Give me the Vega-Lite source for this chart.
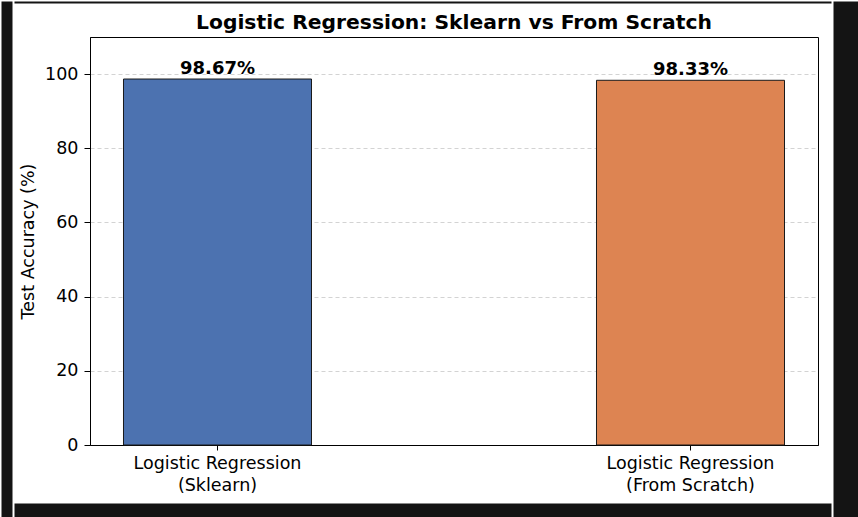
{
  "$schema": "https://vega.github.io/schema/vega-lite/v6.json",
  "background": "white",
  "padding": 0,
  "spacing": 0,
  "config": {
    "font": "DejaVu Sans",
    "view": {"stroke": "black", "strokeWidth": 1}
  },
  "hconcat": [
    {
      "width": 11,
      "height": 517,
      "view": {"fill": "#141414", "stroke": "transparent"},
      "data": {"values": []},
      "mark": "rect"
    },
    {
      "spacing": 8,
      "vconcat": [
        {
          "width": 817,
          "height": 2,
          "view": {"fill": "#141414", "stroke": "transparent"},
          "data": {"values": []},
          "mark": "rect"
        },
        {
          "spacing": 2,
          "hconcat": [
            {
              "width": 1,
              "height": 1,
              "view": {"fill": "transparent", "stroke": "transparent"},
              "data": {"values": []},
              "mark": "rect"
            },
            {
              "width": 728,
              "height": 408,
              "title": {
                "text": "Logistic Regression: Sklearn vs From Scratch",
                "fontSize": 20.3,
                "fontWeight": "bold",
                "font": "DejaVu Sans",
                "color": "black",
                "offset": 4
              },
              "data": {
                "values": [
                  {"model": "Logistic Regression|(Sklearn)", "acc": 98.67},
                  {"model": "Logistic Regression|(From Scratch)", "acc": 98.33}
                ]
              },
              "transform": [
                {"calculate": "format(datum.acc, '.2f') + '%'", "as": "label"}
              ],
              "encoding": {
                "x": {
                  "field": "model",
                  "type": "nominal",
                  "sort": null,
                  "scale": {"paddingInner": 0.6025, "paddingOuter": 0.0708},
                  "axis": {
                    "title": null,
                    "labelAngle": 0,
                    "labelExpr": "split(datum.label, '|')",
                    "labelFontSize": 17.5,
                    "labelColor": "black",
                    "labelLineHeight": 22,
                    "labelPadding": 4,
                    "labelBaseline": "top",
                    "tickColor": "black",
                    "tickSize": 5,
                    "domainColor": "black",
                    "grid": false
                  }
                },
                "y": {
                  "field": "acc",
                  "type": "quantitative",
                  "scale": {"domain": [0, 110], "nice": false},
                  "axis": {
                    "title": "Test Accuracy (%)",
                    "values": [0, 20, 40, 60, 80, 100],
                    "grid": true,
                    "gridDash": [4, 3],
                    "gridColor": "#b0b0b0",
                    "gridOpacity": 0.7,
                    "gridWidth": 0.8,
                    "domainColor": "black",
                    "tickColor": "black",
                    "tickSize": 6,
                    "labelFontSize": 17.5,
                    "labelColor": "black",
                    "labelPadding": 6,
                    "titleFontSize": 17.5,
                    "titleFontWeight": "normal",
                    "titleColor": "black",
                    "titlePadding": 7.5
                  }
                }
              },
              "layer": [
                {
                  "mark": {"type": "bar", "stroke": "#1a1a1a", "strokeWidth": 1},
                  "encoding": {
                    "color": {
                      "field": "model",
                      "type": "nominal",
                      "scale": {
                        "domain": ["Logistic Regression|(Sklearn)", "Logistic Regression|(From Scratch)"],
                        "range": ["#4c72b0", "#dd8452"]
                      },
                      "legend": null
                    }
                  }
                },
                {
                  "mark": {
                    "type": "text",
                    "baseline": "alphabetic",
                    "dy": -5,
                    "fontSize": 18,
                    "fontWeight": "bold",
                    "color": "black"
                  },
                  "encoding": {"text": {"field": "label", "type": "nominal"}}
                }
              ]
            }
          ]
        },
        {
          "width": 817,
          "height": 15,
          "view": {"fill": "#141414", "stroke": "transparent"},
          "data": {"values": []},
          "mark": "rect"
        }
      ]
    },
    {
      "width": 30,
      "height": 517,
      "view": {"fill": "#141414", "stroke": "transparent"},
      "data": {"values": []},
      "mark": "rect"
    }
  ]
}
